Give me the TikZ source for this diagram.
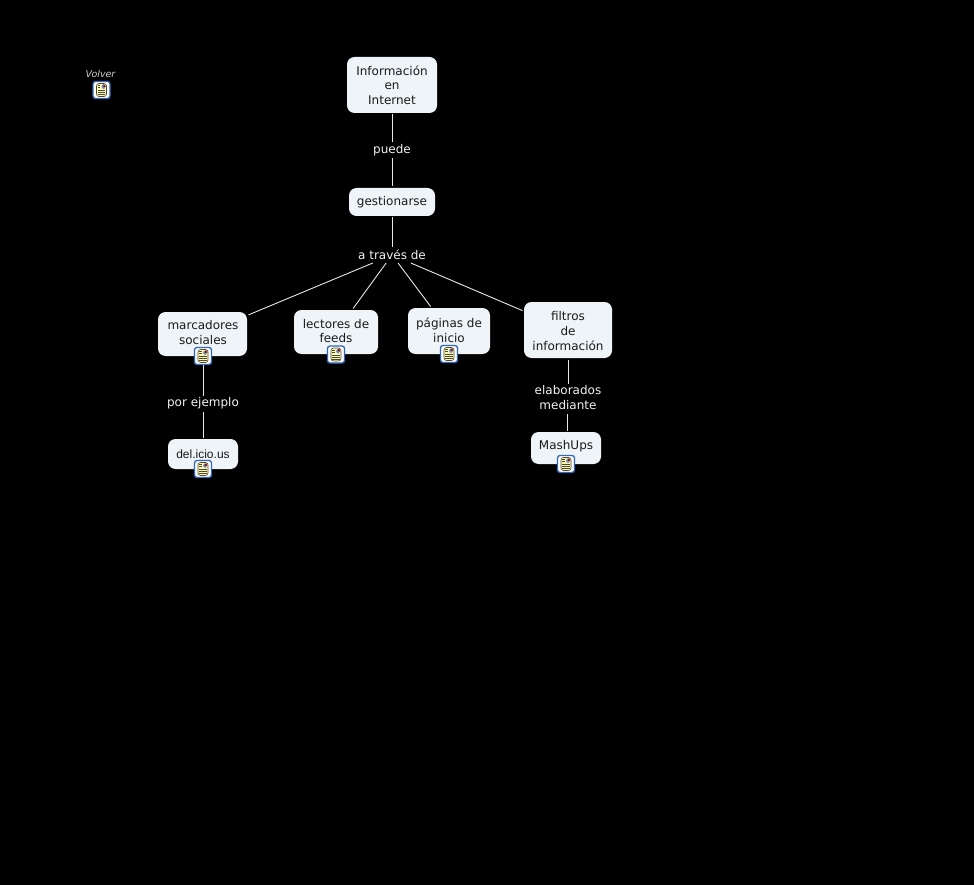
\documentclass[tikz,border=0pt]{standalone}
\usepackage{fontspec}
\setmainfont{DejaVu Sans}
\newfontfamily\delfont{Liberation Sans}
\definecolor{boxfill}{HTML}{EEF4F7}
\definecolor{boxtext}{HTML}{1A1A1A}
\definecolor{linktext}{HTML}{F2F2F2}
\definecolor{linkline}{HTML}{E8E8E8}
\definecolor{iconblue}{HTML}{2F66B8}
\definecolor{iconpage}{HTML}{FFF9B8}
\definecolor{iconimg}{HTML}{6F93C8}
\definecolor{iconink}{HTML}{4A4A30}
\newcommand{\boxlines}[2]{\raisebox{\dimexpr#1-3pt\relax}[0pt][0pt]{\begin{tabular}{@{}c@{}}#2\end{tabular}}}
\newcommand{\iconinner}{%
  \begin{scope}[shift={(path picture bounding box.center)}]
    \fill[iconpage,draw=iconink,line width=.6pt] (-5,-6.5) rectangle (5,6.5);
    \fill[iconimg] (0,-5.5) rectangle (4,-1);
    \fill[red!55!black] (2,-5.2) rectangle (3.7,-3.4);
    \foreach \yy/\xx in {-4.4/-1.2,-2.4/-1.2,.4/3.8,2.4/3.8,4.4/3.8}
      \draw[iconink,line width=.55pt] (-3.8,\yy) -- (\xx,\yy);
  \end{scope}}
\tikzset{
  concept/.style={rectangle,rounded corners=7.5pt,fill=boxfill,text=boxtext,align=center,
    inner sep=0pt,outer sep=1.5pt,font=\fontsize{12}{14.7}\selectfont},
  linking/.style={rectangle,text=linktext,align=center,inner sep=0pt,outer sep=0pt,
    font=\fontsize{12}{14.7}\selectfont},
  link/.style={draw=linkline,line width=.9pt},
  resicon/.style={rectangle,rounded corners=2.5pt,minimum width=17pt,minimum height=17pt,
    inner sep=0pt,outer sep=0pt,draw=iconblue,line width=1.3pt,fill=white,
    path picture={\iconinner}},
}
\begin{document}
\begin{tikzpicture}[x=1pt,y=-1pt]
\path[use as bounding box,fill=black] (0,0) rectangle (974,885);
% concepts
\node[concept,minimum width=90pt,minimum height=56pt] (info) at (392,85) {\boxlines{-2pt}{Información\\en\\Internet}};
\node[concept,minimum width=86pt,minimum height=28pt] (gest) at (392,202) {gestionarse};
\node[concept,minimum width=89pt,minimum height=44pt] (marc) at (202.5,334) {\hspace{1pt}\boxlines{0pt}{marcadores\\sociales}};
\node[concept,minimum width=84pt,minimum height=44pt] (lect) at (336,332) {\boxlines{-.5pt}{lectores de\\feeds}};
\node[concept,minimum width=82pt,minimum height=46pt] (pag) at (449,331) {\boxlines{-1pt}{páginas de\\inicio}};
\node[concept,minimum width=88pt,minimum height=56pt] (filt) at (568,330) {\boxlines{-2.5pt}{filtros\\de\\información}};
\node[concept,minimum width=70pt,minimum height=30pt] (del) at (203,454) {\delfont\fontsize{12}{14}\selectfont del.icio.us};
\node[concept,minimum width=70pt,minimum height=32pt] (mash) at (566,448) {\raisebox{-1.5pt}[0pt][0pt]{MashUps}};
% linking phrases
\node[linking,minimum width=40pt,minimum height=16pt] (puede) at (392,150) {puede};
\node[linking,minimum width=68pt,minimum height=16pt] (trav) at (392,255) {a través de};
\node[linking,minimum width=74pt,minimum height=16pt] (ejem) at (203,403.5) {por ejemplo};
\node[linking,minimum width=68pt,minimum height=29pt] (elab) at (568,399) {\begin{tabular}{@{}c@{}}elaborados\\mediante\end{tabular}};
% resource icons
\node[resicon] (icmarc) at (203,356) {};
\node[resicon] (iclect) at (336,354.5) {};
\node[resicon] (icpag) at (449,354) {};
\node[resicon] (icdel) at (203,469) {};
\node[resicon] (icmash) at (566,464) {};
\node[resicon] (icvol) at (101.5,90) {};
\node[text=linktext!85!black,font=\fontsize{9.5}{11}\selectfont\itshape,inner sep=0pt] (volver) at (100.5,74) {Volver};
% connectors
\draw[link] (info) -- (puede);
\draw[link] (puede) -- (gest);
\draw[link] (gest) -- (trav);
\draw[link] (trav) -- (marc);
\draw[link] (trav) -- (lect);
\draw[link] (trav) -- (pag);
\draw[link] (trav) -- (filt);
\draw[link] (icmarc) -- (ejem);
\draw[link] (ejem) -- (del);
\draw[link] (filt) -- (elab);
\draw[link] ([xshift=1.3pt]elab.south -| mash) -- ([xshift=1.3pt]mash.north);
\end{tikzpicture}
\end{document}
